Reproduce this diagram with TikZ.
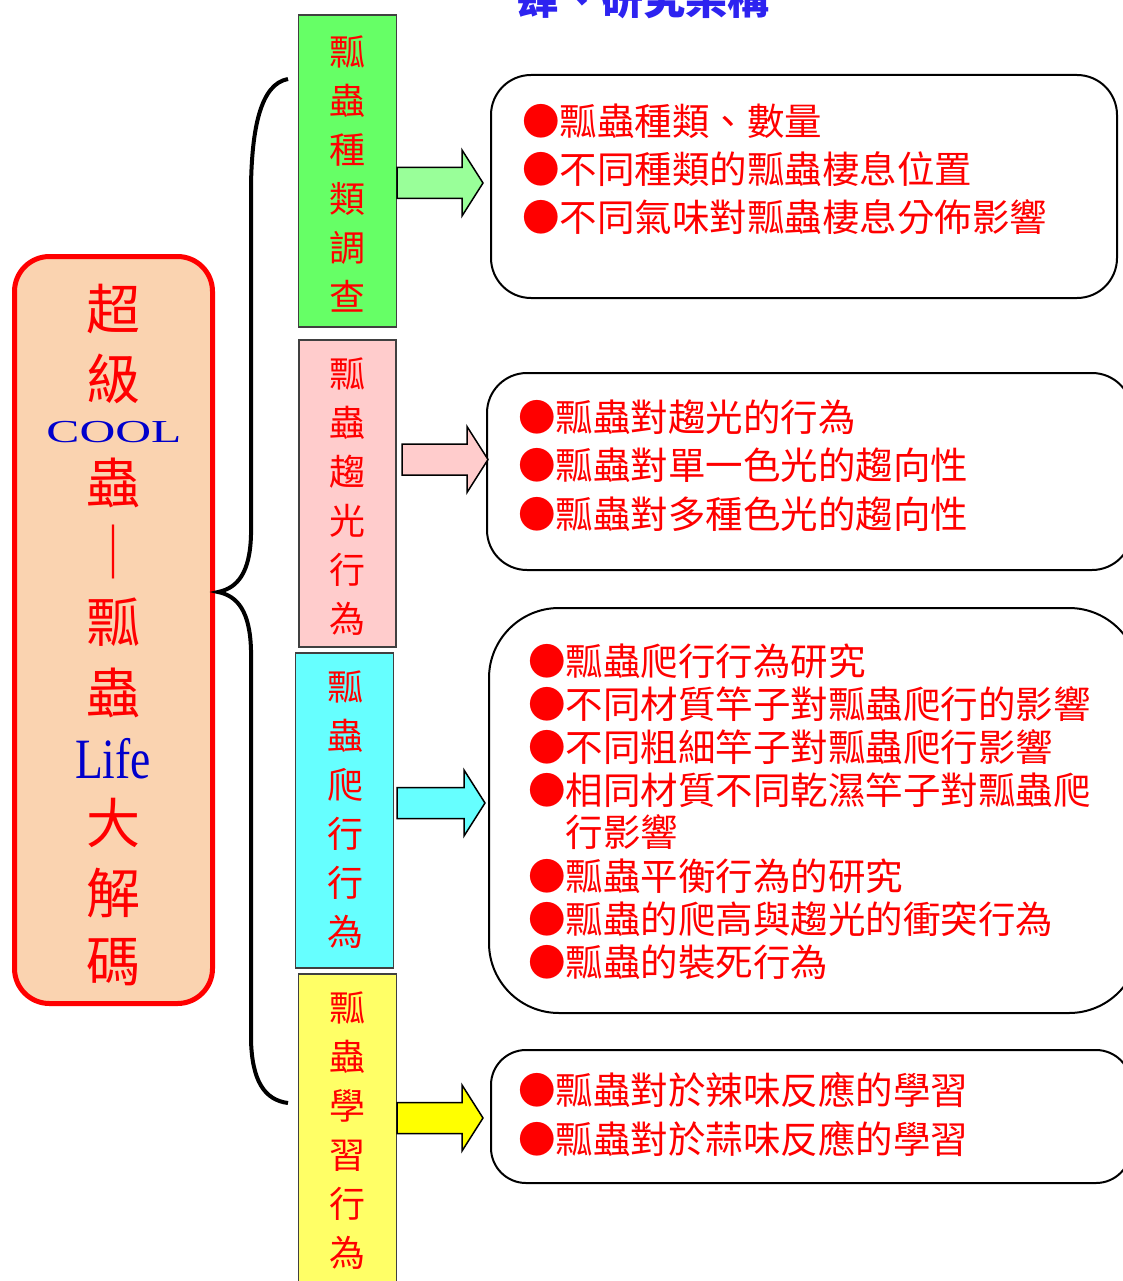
\documentclass[tikz,border=0pt]{standalone}
\usepackage{fontspec}
\setmainfont{Liberation Serif}
\newfontfamily\cjk{Noto Sans CJK TC}
\usetikzlibrary{calc}
\definecolor{tred}{RGB}{255,0,0}
\definecolor{tblue}{RGB}{0,0,204}
\definecolor{ttitle}{RGB}{45,35,240}
\definecolor{peach}{RGB}{250,211,176}
\definecolor{cgreen}{RGB}{102,255,102}
\definecolor{cpink}{RGB}{255,204,204}
\definecolor{ccyan}{RGB}{102,255,255}
\definecolor{cyellow}{RGB}{255,255,102}
\definecolor{agreen}{RGB}{153,255,153}
\definecolor{ayellow}{RGB}{255,255,0}
\newcommand\blockarrow[5]{% name, fill, x start, y centre, x tip
  \coordinate (#1) at (#4,#3);
  \draw[arrowline, fill=#2] (#3,#4-15.5) -- (#5-21,#4-15.5) -- (#5-21,#4-33) -- (#5,#4) -- (#5-21,#4+33) -- (#5-21,#4+15.5) -- (#3,#4+15.5) -- cycle;}
\begin{document}
\begin{tikzpicture}[x=1pt,y=-1pt,
  lchar/.style={inner sep=0, text=tred, font=\cjk\fontsize{54}{54}\selectfont},
  coltext/.style={inner sep=0, text=tred, align=center, font=\cjk\fontsize{36}{49}\selectfont},
  colbox/.style={draw=black!75, line width=1.5pt, inner sep=0},
  rbox/.style={draw=black, line width=2pt, fill=white, inner sep=0},
  rtext/.style={anchor=west, inner sep=0, text=tred, font=\cjk\fontsize{37.5}{37.5}\selectfont},
  arrowline/.style={draw=black, line width=1.5pt, line join=miter},
  bracket/.style={draw=black, line width=4pt}
]
\useasboundingbox (0,0) rectangle (1123,1281);
\clip (0,0) rectangle (1123,1281);

% title (cut at top)
\node[inner sep=0, text=ttitle, font=\cjk\bfseries\fontsize{42}{42}\selectfont] (title) at (643,-1) {肆、研究架構};

% left box
\node[draw=tred, line width=5pt, fill=peach, rounded corners=35pt, minimum width=198pt, minimum height=747pt, inner sep=0] (main) at (113.5,630) {};
\node[lchar] (m1) at (113,309) {超};
\node[lchar] (m2) at (113,379) {級};
\node[inner sep=0, text=tblue, font=\fontsize{32}{32}\selectfont] (m3) at (114,432) {\scalebox{1.55}[1]{COOL}};
\node[lchar] (m4) at (113,483) {蟲};
\node[lchar] (m5) at (113,552) {｜};
\node[lchar] (m6) at (113,622) {瓢};
\node[lchar] (m7) at (113,693) {蟲};
\node[inner sep=0, text=tblue, font=\fontsize{57}{57}\selectfont] (m8) at (113,759) {\scalebox{0.8}[1]{Life}};
\node[lchar] (m9) at (113,823) {大};
\node[lchar] (m10) at (113,893) {解};
\node[lchar] (m11) at (113,962) {碼};

% brace
\draw[bracket] (288,79) .. controls (260,84) and (252,130) .. (251,185) -- (251,535)
  .. controls (250,572) and (238,588) .. (218,592)
  .. controls (238,596) and (250,612) .. (251,650) -- (251,1040)
  .. controls (252,1080) and (264,1100) .. (288,1103);

% column boxes
\node[colbox, fill=cgreen, minimum width=98pt, minimum height=312pt] (c1) at (347.5,171) {};
\node[coltext] (t1) at (347,173.5) {瓢\\蟲\\種\\類\\調\\查};
\node[colbox, fill=cpink, minimum width=97pt, minimum height=307pt] (c2) at (347.5,493.5) {};
\node[coltext] (t2) at (347,496.5) {瓢\\蟲\\趨\\光\\行\\為};
\node[colbox, fill=ccyan, minimum width=98pt, minimum height=315pt] (c3) at (344.5,810.5) {};
\node[coltext] (t3) at (345,809.5) {瓢\\蟲\\爬\\行\\行\\為};
\node[colbox, fill=cyellow, minimum width=98pt, minimum height=330pt] (c4) at (347.5,1139) {};
\node[coltext] (t4) at (347,1131) {瓢\\蟲\\學\\習\\行\\為};

% right boxes
\node[rbox, rounded corners=40pt, minimum width=626pt, minimum height=223pt] (r1) at (804,186.5) {};
\node[rbox, rounded corners=40pt, minimum width=645pt, minimum height=197pt] (r2) at (809.5,471.5) {};
\node[rbox, rounded corners=70pt, minimum width=650pt, minimum height=405pt] (r3) at (814,810.5) {};
\node[rbox, rounded corners=35pt, minimum width=640pt, minimum height=133pt] (r4) at (811,1116.5) {};

% arrows
\blockarrow{a1}{agreen}{397}{183}{483}
\blockarrow{a2}{cpink}{402}{459.5}{488}
\blockarrow{a3}{ccyan}{397}{803}{485}
\blockarrow{a4}{ayellow}{397}{1118}{483}

% texts in right boxes
\node[rtext] (x11) at (522,121) {●瓢蟲種類、數量};
\node[rtext] (x12) at (522,169) {●不同種類的瓢蟲棲息位置};
\node[rtext] (x13) at (522,217) {●不同氣味對瓢蟲棲息分佈影響};

\node[rtext] (x21) at (518,417) {●瓢蟲對趨光的行為};
\node[rtext] (x22) at (518,465) {●瓢蟲對單一色光的趨向性};
\node[rtext] (x23) at (518,514) {●瓢蟲對多種色光的趨向性};

\node[rtext] (x31) at (528,661) {●瓢蟲爬行行為研究};
\node[rtext] (x32) at (528,704) {●不同材質竿子對瓢蟲爬行的影響};
\node[rtext] (x33) at (528,747) {●不同粗細竿子對瓢蟲爬行影響};
\node[rtext] (x34) at (528,790) {●相同材質不同乾濕竿子對瓢蟲爬};
\node[rtext] (x35) at (565.5,832) {行影響};
\node[rtext] (x36) at (528,876) {●瓢蟲平衡行為的研究};
\node[rtext] (x37) at (528,919) {●瓢蟲的爬高與趨光的衝突行為};
\node[rtext] (x38) at (528,962) {●瓢蟲的裝死行為};

\node[rtext] (x41) at (518,1090) {●瓢蟲對於辣味反應的學習};
\node[rtext] (x42) at (518,1139) {●瓢蟲對於蒜味反應的學習};
\end{tikzpicture}
\end{document}
